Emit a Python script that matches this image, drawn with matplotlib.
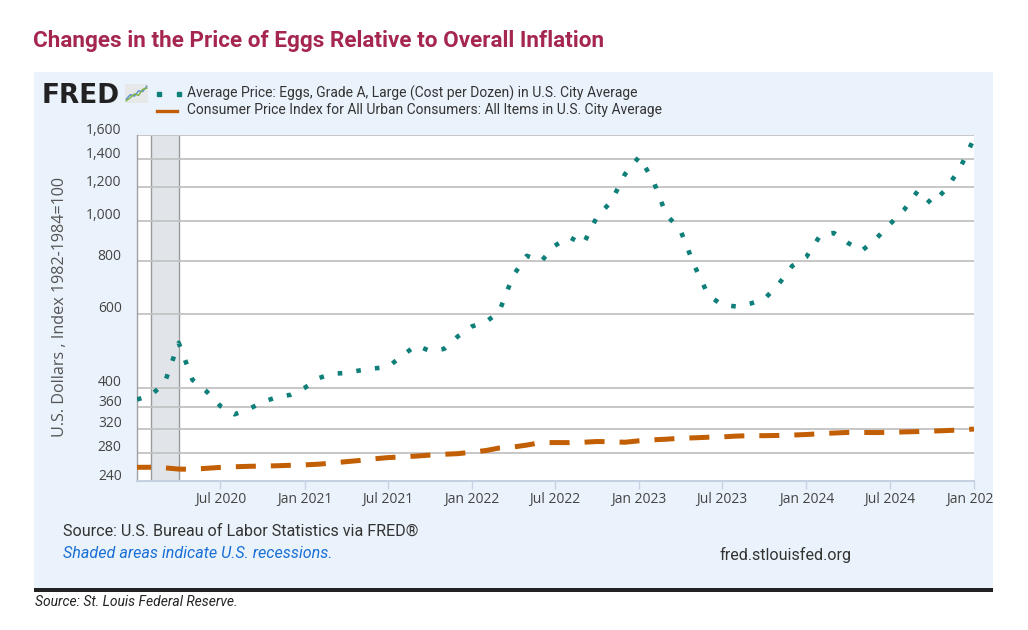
import numpy as np
import pandas as pd
import matplotlib
matplotlib.use("Agg")
import matplotlib.pyplot as plt
from matplotlib.patches import Rectangle
from matplotlib.lines import Line2D
from matplotlib.transforms import ScaledTranslation
from matplotlib import font_manager

# monthly data, Jan 2020 .. Jan 2025
months = pd.date_range("2020-01-01", "2025-01-01", freq="MS")
eggs = [375, 385, 410, 512, 418, 392, 362, 346, 356, 370, 380, 385,
        400, 422, 432, 434, 440, 445, 448, 476, 505, 490, 495, 530,
        560, 575, 605, 740, 825, 800, 872, 915, 878, 1022, 1110, 1290,
        1420, 1245, 1035, 950, 785, 665, 630, 625, 635, 650, 705, 780,
        820, 925, 935, 885, 848, 905, 980, 1060, 1180, 1095, 1190, 1330,
        1570]
cpi = [258.7, 258.8, 258.0, 256.2, 255.9, 257.3, 258.6, 259.5, 260.1, 260.5, 260.9, 261.6,
       262.2, 263.2, 264.8, 266.8, 268.6, 271.0, 272.8, 273.9, 275.1, 276.6, 277.9, 278.8,
       281.1, 283.7, 287.5, 289.1, 292.3, 296.3, 296.3, 296.2, 296.8, 298.0, 297.7, 296.8,
       299.2, 300.8, 301.8, 303.4, 304.1, 305.1, 305.7, 307.0, 307.8, 307.7, 308.1, 308.7,
       309.7, 311.1, 312.2, 313.2, 313.2, 313.0, 313.5, 314.1, 314.7, 315.5, 316.4, 317.6,
       319.1]
recession = ("2020-02-01", "2020-04-01")
y_ticks = [240, 280, 320, 360, 400, 600, 800, 1000, 1200, 1400, 1600]
x_ticks = pd.date_range("2020-07-01", "2025-01-01", freq="6MS")

egg_label = "Average Price: Eggs, Grade A, Large (Cost per Dozen) in U.S. City Average"
cpi_label = "Consumer Price Index for All Urban Consumers: All Items in U.S. City Average"

teal = "#0f7f79"
orange = "#c25e03"
panel_bg = "#eaf3fb"

installed = {f.name for f in font_manager.fontManager.ttflist}
narrow = "Liberation Sans Narrow" if "Liberation Sans Narrow" in installed else "Roboto"
plt.rcParams["font.family"] = ["Open Sans", "DejaVu Sans"]

W, H = 1028, 630
def fx(px):
    return px / W
def fy(py):
    return 1 - py / H

fig = plt.figure(figsize=(W / 100, H / 100), dpi=100)
fig.patch.set_facecolor("white")

panel = Rectangle((fx(34), fy(588)), (993 - 34) / W, (588 - 72) / H,
                  transform=fig.transFigure, facecolor=panel_bg, edgecolor="none", zorder=0)
fig.add_artist(panel)
fig.add_artist(Rectangle((fx(34), fy(591.5)), (993 - 34) / W, 3.5 / H,
                         transform=fig.transFigure, facecolor="#222222", edgecolor="none"))

ax = fig.add_axes([fx(137), fy(481), (974 - 137) / W, (481 - 135) / H])
ax.set_facecolor("white")

ax.axvspan(pd.Timestamp(recession[0]), pd.Timestamp(recession[1]),
           facecolor="#e1e5ea", edgecolor="none", zorder=0.3)
for d in recession:
    ax.axvline(pd.Timestamp(d), color="#9a9a9a", lw=1, zorder=0.4)

ax.plot(months, eggs, color=teal, lw=3.3, linestyle=(0, (1, 3.1)),
        dash_capstyle="butt", zorder=3)
ax.plot(months, cpi, color=orange, lw=3.6, linestyle=(1.2, (4, 3)),
        dash_capstyle="butt", zorder=3)

ax.set_yscale("log")
ax.set_ylim(240, 1600)
ax.set_xlim(pd.Timestamp("2020-01-01"), pd.Timestamp("2025-01-01"))
ax.minorticks_off()
ax.set_yticks(y_ticks)
ax.set_yticklabels([f"{v:,}" for v in y_ticks])
ax.set_xticks(x_ticks)
ax.set_xticklabels([d.strftime("%b %Y") for d in x_ticks])

ax.set_axisbelow(True)
ax.yaxis.grid(True, color="#c3c3c3", lw=1.3)
for s in ["top", "right"]:
    ax.spines[s].set_visible(False)
ax.spines["left"].set_color("#a0a0a0")
ax.spines["left"].set_linewidth(1)
ax.spines["bottom"].set_color("#c5d1e0")
ax.spines["bottom"].set_linewidth(1.5)
ax.tick_params(axis="x", length=6, width=1, color="#c8d4e4", pad=2,
               labelsize=10, labelcolor="#444444")
ax.tick_params(axis="y", length=0, pad=11, labelsize=10, labelcolor="#444444")

shift = ScaledTranslation(0, 0.07, fig.dpi_scale_trans)
for t in ax.yaxis.get_major_ticks():
    t.label1.set_transform(t.label1.get_transform() + shift)
for lab in ax.get_xticklabels():
    lab.set_clip_on(True)
    lab.set_clip_path(panel)

fig.text(fx(60), fy(307), "U.S. Dollars , Index 1982-1984=100", rotation=90,
         ha="center", va="center", fontsize=11.6, color="#555555")

# title
fig.text(fx(33), fy(47.5), "Changes in the Price of Eggs Relative to Overall Inflation",
         family=narrow, weight="bold", fontsize=16.2, color="#a5274f", va="baseline")

# FRED logo
fig.text(fx(42), fy(103), "FRED", family="DejaVu Sans", weight="bold", fontsize=19,
         color="#222222", va="baseline")
icon = fig.add_axes([fx(125), fy(103), 23 / W, 19 / H])
icon.set_facecolor("#e6e8ea")
icon.set_xticks([])
icon.set_yticks([])
for s in icon.spines.values():
    s.set_visible(False)
icon_x = [0, 1, 2, 3, 4, 5]
icon.plot(icon_x, [1, 2.2, 1.8, 3.2, 3.0, 4.4], color="#5b8fc9", lw=1)
icon.plot(icon_x, [0.6, 1.4, 2.4, 2.0, 3.6, 3.9], color="#7cb342", lw=1)
icon.set_xlim(-0.3, 5.3)
icon.set_ylim(0, 5)

# legend
fig.add_artist(Line2D([fx(159.3), fx(179)], [fy(93.5)] * 2, marker="s", ms=3.2,
                      linestyle="none", color=teal, transform=fig.transFigure))
fig.add_artist(Line2D([fx(157), fx(177)], [fy(111)] * 2, lw=2.4, color=orange,
                      transform=fig.transFigure))
fig.text(fx(187), fy(97.5), egg_label, family="Roboto", fontsize=10,
         color="#333333", va="baseline")
fig.text(fx(187), fy(114), cpi_label, family="Roboto", fontsize=10,
         color="#333333", va="baseline")

# notes
fig.text(fx(63), fy(535.5), "Source: U.S. Bureau of Labor Statistics via FRED®",
         family="Roboto", fontsize=11.6, color="#333333", va="baseline")
fig.text(fx(63), fy(558), "Shaded areas indicate U.S. recessions.", family="Roboto",
         style="italic", fontsize=11.6, color="#1a6fd6", va="baseline")
fig.text(fx(719), fy(560), "fred.stlouisfed.org", family="Roboto", fontsize=11.6,
         color="#333333", va="baseline")
fig.text(fx(35), fy(606.5), "Source: St. Louis Federal Reserve.", family=narrow,
         style="italic", fontsize=10, color="#222222", va="baseline")

fig.savefig("out.png", dpi=100)
